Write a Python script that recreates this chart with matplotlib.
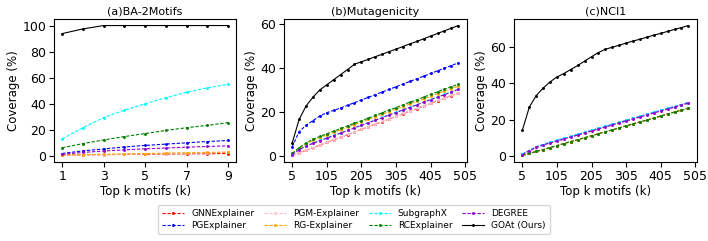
import matplotlib
matplotlib.use('Agg')
import matplotlib.pyplot as plt

methods = ['GNNExplainer', 'PGExplainer', 'PGM-Explainer', 'RG-Explainer',
           'SubgraphX', 'RCExplainer', 'DEGREE', 'GOAt (Ours)']
colors = ['red', 'blue', 'pink', 'orange', 'cyan', 'green', 'darkviolet', 'black']

titles = ['(a)BA-2Motifs', '(b)Mutagenicity', '(c)NCI1']

# (a) BA-2Motifs, k = 1..9
k_a = [1, 2, 3, 4, 5, 6, 7, 8, 9]
gnn_a = [0.5, 0.7, 0.9, 1.1, 1.2, 1.4, 1.5, 1.6, 1.8]
pg_a = [1.8, 3.8, 5.3, 6.8, 8.0, 9.0, 10.0, 11.0, 11.8]
pgm_a = [0.3, 0.6, 0.9, 1.2, 1.5, 1.8, 2.1, 2.4, 2.7]
rg_a = [0.5, 0.9, 1.2, 1.5, 1.8, 2.1, 2.4, 2.6, 2.9]
sub_a = [13.0, 21.5, 29.4, 35.0, 40.0, 44.7, 48.8, 52.2, 54.8]
rc_a = [6.2, 9.4, 12.2, 14.8, 17.1, 19.5, 21.6, 23.4, 25.5]
degree_a = [1.2, 2.6, 3.7, 4.6, 5.4, 6.0, 6.7, 7.2, 7.7]
goat_a = [93.8, 97.4, 100, 100, 100, 100, 100, 100, 100]

# (b) Mutagenicity and (c) NCI1, k = 5, 25, ..., 485
k_big = [5, 25, 45, 65, 85, 105, 125, 145, 165, 185, 205, 225, 245,
         265, 285, 305, 325, 345, 365, 385, 405, 425, 445, 465, 485]

gnn_b = [0.4, 1.6, 2.8, 3.9, 5.1, 6.3, 7.5, 8.7, 9.8, 11.0, 12.2, 13.4, 14.6,
         15.7, 16.9, 18.1, 19.3, 20.5, 21.6, 22.8, 24.0, 25.2, 26.4, 27.5, 28.7]
pg_b = [4.3, 11.2, 14.0, 16.2, 18.3, 19.8, 20.8, 21.9, 23.1, 24.3, 25.5, 26.7, 27.9,
        29.1, 30.3, 31.5, 32.7, 33.9, 35.1, 36.3, 37.5, 38.7, 39.9, 41.1, 42.3]
pgm_b = [0.5, 1.7, 2.9, 4.0, 5.2, 6.4, 7.6, 8.8, 9.9, 11.1, 12.3, 13.5, 14.7,
         15.8, 17.0, 18.2, 19.4, 20.6, 21.7, 22.9, 24.1, 25.3, 26.5, 27.6, 28.8]
rg_b = [1.2, 3.6, 5.5, 7.2, 8.5, 9.7, 10.8, 12.0, 13.2, 14.4, 15.5, 16.7, 17.9,
        19.0, 20.2, 21.4, 22.5, 23.7, 24.9, 26.0, 27.2, 28.4, 29.5, 30.7, 31.8]
sub_b = [0.9, 3.1, 4.7, 6.0, 7.2, 8.3, 9.5, 10.6, 11.8, 13.0, 14.1, 15.3, 16.4,
         17.6, 18.8, 19.9, 21.1, 22.2, 23.4, 24.6, 25.7, 26.9, 28.0, 29.2, 30.4]
rc_b = [1.3, 4.0, 6.0, 7.8, 9.0, 10.2, 11.4, 12.6, 13.8, 15.0, 16.1, 17.3, 18.5,
        19.7, 20.9, 22.1, 23.3, 24.5, 25.6, 26.8, 28.0, 29.2, 30.4, 31.5, 32.7]
degree_b = [0.8, 3.0, 4.6, 5.9, 7.1, 8.2, 9.4, 10.5, 11.7, 12.9, 14.0, 15.2, 16.3,
            17.5, 18.7, 19.8, 21.0, 22.1, 23.3, 24.5, 25.6, 26.8, 27.9, 29.1, 30.3]
goat_b = [6.1, 16.7, 22.8, 26.8, 30.1, 32.4, 34.7, 37.0, 39.3, 41.7, 42.8, 43.9, 45.1,
          46.2, 47.4, 48.5, 49.7, 50.9, 52.0, 53.2, 54.4, 55.6, 56.8, 58.0, 59.2]

gnn_c = [0.3, 1.4, 2.5, 3.5, 4.6, 5.7, 6.8, 7.9, 8.9, 10.0, 11.1, 12.2, 13.3,
         14.3, 15.4, 16.5, 17.6, 18.7, 19.7, 20.8, 21.9, 23.0, 24.1, 25.1, 26.2]
pg_c = [1.0, 3.0, 5.0, 6.3, 7.5, 8.5, 9.6, 10.7, 11.8, 12.9, 14.0, 15.1, 16.2,
        17.3, 18.4, 19.5, 20.6, 21.7, 22.8, 23.9, 25.0, 26.1, 27.1, 28.2, 29.3]
pgm_c = [0.7, 2.6, 4.5, 5.8, 7.0, 8.0, 9.1, 10.2, 11.3, 12.4, 13.5, 14.6, 15.7,
         16.8, 17.9, 19.0, 20.1, 21.2, 22.3, 23.4, 24.5, 25.5, 26.6, 27.7, 28.8]
rg_c = [0.3, 1.4, 2.5, 3.5, 4.6, 5.7, 6.8, 7.9, 8.9, 10.0, 11.1, 12.2, 13.3,
        14.3, 15.4, 16.5, 17.6, 18.7, 19.7, 20.8, 21.9, 23.0, 24.1, 25.1, 26.2]
sub_c = [1.0, 3.0, 5.0, 6.3, 7.5, 8.5, 9.6, 10.7, 11.8, 12.9, 14.0, 15.1, 16.2,
         17.3, 18.4, 19.5, 20.6, 21.7, 22.8, 23.9, 25.0, 26.1, 27.1, 28.2, 29.3]
rc_c = [0.3, 1.4, 2.5, 3.5, 4.6, 5.7, 6.8, 7.9, 8.9, 10.0, 11.1, 12.2, 13.3,
        14.3, 15.4, 16.5, 17.6, 18.7, 19.7, 20.8, 21.9, 23.0, 24.1, 25.1, 26.2]
degree_c = [0.8, 2.8, 4.7, 6.0, 7.2, 8.2, 9.3, 10.4, 11.5, 12.6, 13.7, 14.8, 15.9,
            17.0, 18.1, 19.2, 20.3, 21.4, 22.5, 23.6, 24.7, 25.7, 26.8, 27.9, 29.0]
goat_c = [14.1, 26.7, 33.1, 37.2, 40.6, 43.3, 45.2, 47.4, 49.6, 52.0, 54.4, 56.7, 58.5,
          59.6, 60.7, 61.9, 63.0, 64.0, 65.1, 66.2, 67.2, 68.3, 69.4, 70.4, 71.5]

panels = [
    (k_a, [gnn_a, pg_a, pgm_a, rg_a, sub_a, rc_a, degree_a, goat_a], [1, 3, 5, 7, 9], [0, 20, 40, 60, 80, 100]),
    (k_big, [gnn_b, pg_b, pgm_b, rg_b, sub_b, rc_b, degree_b, goat_b], [5, 105, 205, 305, 405, 505], [0, 20, 40, 60]),
    (k_big, [gnn_c, pg_c, pgm_c, rg_c, sub_c, rc_c, degree_c, goat_c], [5, 105, 205, 305, 405, 505], [0, 20, 40, 60]),
]

fig, axes = plt.subplots(1, 3, figsize=(7.08, 2.41), dpi=100)
fig.subplots_adjust(left=0.076, right=0.984, top=0.921, bottom=0.328, wspace=0.26)

for ax, title, (x, series, xt, yt) in zip(axes, titles, panels):
    for name, c, y in zip(methods, colors, series):
        if name.startswith('GOAt'):
            ax.plot(x, y, '-', color=c, marker='o', markersize=1.1, linewidth=0.8, label=name)
        else:
            ax.plot(x, y, '--', dashes=(3, 1.5), color=c, marker='o', markersize=1.1,
                    linewidth=0.8, label=name)
    ax.set_title(title, fontsize=8, pad=3)
    ax.set_xlabel('Top k motifs (k)', fontsize=8.5, labelpad=2)
    ax.set_ylabel('Coverage (%)', fontsize=8.5, labelpad=2)
    ax.set_xticks(xt)
    ax.set_yticks(yt)
    ax.tick_params(axis='both', labelsize=9, pad=2)

handles, labels = axes[0].get_legend_handles_labels()
fig.legend(handles, labels, loc='lower center', bbox_to_anchor=(0.5, 0.01), ncol=4,
           fontsize=6.5, handlelength=2.4, columnspacing=1.1, borderpad=0.45, labelspacing=0.35)

plt.savefig('out.png', dpi=100)
